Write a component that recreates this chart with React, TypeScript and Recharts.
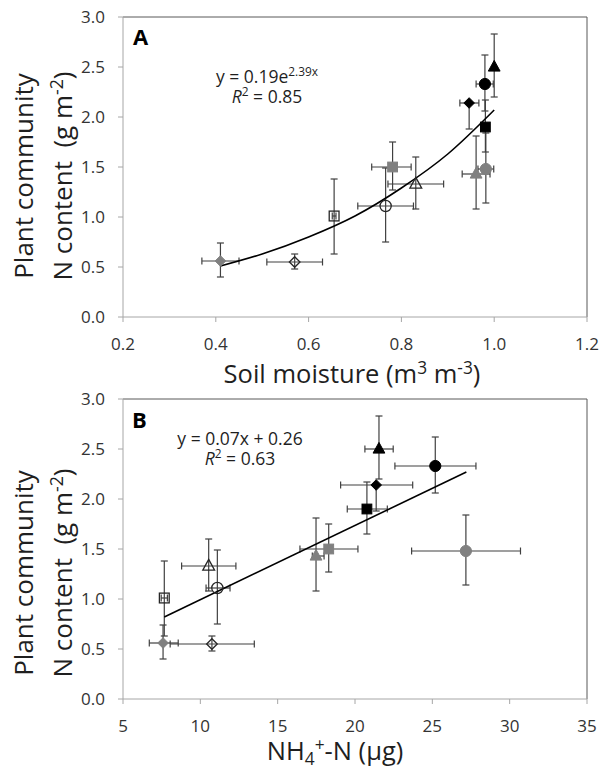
import React from 'react';
import { ScatterChart, Scatter, XAxis, YAxis, ErrorBar, ReferenceLine } from 'recharts';

// treatments, in marker order
const treatments = [
  'grayDiamond', 'openDiamond', 'crossSquare', 'openCircle', 'openTriangle', 'graySquare',
  'blackDiamond', 'blackCircle', 'blackTriangle', 'blackSquare', 'grayTriangle', 'grayCircle',
];

// plant community N content (g m-2), shared by both panels
const nContent = [0.56, 0.55, 1.01, 1.11, 1.33, 1.5, 2.14, 2.33, 2.5, 1.9, 1.43, 1.48];
const nContentErr = [
  [0.16, 0.18], [0.07, 0.08], [0.38, 0.37], [0.36, 0.38], [0.25, 0.27], [0.23, 0.25],
  [0.26, 0], [0.27, 0.29], [0.3, 0.33], [0.25, 0.27], [0.35, 0.38], [0.34, 0.36],
];

// panel A: soil moisture (m3 m-3)
const soilMoisture = [0.41, 0.57, 0.655, 0.766, 0.831, 0.781, 0.946, 0.98, 1.0, 0.981, 0.961, 0.982];
const soilMoistureErr = [
  [0.04, 0.04], [0.06, 0.06], [0.004, 0.004], [0.06, 0.06], [0.06, 0.06], [0.045, 0.04],
  [0.02, 0.021], [0.019, 0.018], [0, 0], [0.004, 0.004], [0.03, 0.03], [0.017, 0.017],
];
const trendAx = [0.41, 0.5, 0.6, 0.7, 0.8, 0.9, 1.0];
const trendAy = [0.51, 0.63, 0.8, 1.01, 1.29, 1.63, 2.07];

// panel B: NH4+-N (ug)
const nh4 = [7.59, 10.75, 7.67, 11.1, 10.54, 18.3, 21.37, 25.19, 21.55, 20.77, 17.48, 27.17];
const nh4Err = [
  [0.89, 0.98], [2.7, 2.74], [0.2, 0.2], [0.73, 0.82], [1.75, 1.76], [1.86, 1.89],
  [2.3, 2.36], [2.61, 2.63], [0.91, 0.92], [1.27, 1.32], [0.24, 0.52], [3.51, 3.53],
];
const trendBx = [7.67, 27.2];
const trendBy = [0.82, 2.27];

const yTicks = [0, 0.5, 1, 1.5, 2, 2.5, 3];
const xTicksA = [0.2, 0.4, 0.6, 0.8, 1.0, 1.2];
const xTicksB = [5, 10, 15, 20, 25, 30, 35];

const GRAY = '#808080';
const markerStyle: Record<string, { shape: string; fill: string }> = {
  grayDiamond: { shape: 'diamond', fill: GRAY },
  openDiamond: { shape: 'diamond', fill: 'none' },
  crossSquare: { shape: 'square', fill: 'none' },
  openCircle: { shape: 'circle', fill: 'none' },
  openTriangle: { shape: 'triangle', fill: 'none' },
  graySquare: { shape: 'square', fill: GRAY },
  blackDiamond: { shape: 'diamond', fill: '#000' },
  blackCircle: { shape: 'circle', fill: '#000' },
  blackTriangle: { shape: 'triangle', fill: '#000' },
  blackSquare: { shape: 'square', fill: '#000' },
  grayTriangle: { shape: 'triangle', fill: GRAY },
  grayCircle: { shape: 'circle', fill: GRAY },
};

const FONT = '"Open Sans", sans-serif';
const AXIS = '#a6a6a6';
const FRAME = '#595959';
const ERR = '#404040';

const pointsA = treatments.map((name, i) => ({
  name, x: soilMoisture[i], y: nContent[i], ex: soilMoistureErr[i], ey: nContentErr[i],
}));
const pointsB = treatments.map((name, i) => ({
  name, x: nh4[i], y: nContent[i], ex: nh4Err[i], ey: nContentErr[i],
}));
const lineA = trendAx.map((x, i) => ({ x, y: trendAy[i] }));
const lineB = trendBx.map((x, i) => ({ x, y: trendBy[i] }));

const Marker = (props: any) => {
  const { cx, cy, payload } = props;
  const m = markerStyle[payload.name];
  const open = m.fill === 'none';
  const stroke = open ? '#262626' : m.fill;
  const common = { fill: m.fill, stroke, strokeWidth: open ? 1.3 : 1 };
  if (m.shape === 'circle') return <circle cx={cx} cy={cy} r={5.6} {...common} />;
  if (m.shape === 'square') return <rect x={cx - 4.9} y={cy - 4.9} width={9.8} height={9.8} {...common} />;
  if (m.shape === 'triangle')
    return <polygon points={`${cx},${cy - 6.6} ${cx + 5.9},${cy + 4.1} ${cx - 5.9},${cy + 4.1}`} {...common} />;
  return <polygon points={`${cx},${cy - 5.3} ${cx + 5.3},${cy} ${cx},${cy + 5.3} ${cx - 5.3},${cy}`} {...common} />;
};

const NoDot = () => <g />;

const tickStyle = { fill: '#333', fontSize: 17, fontFamily: FONT };

function Panel({ points, line, domain, ticks }: any) {
  return (
    <ScatterChart width={601} height={390} margin={{ top: 17, right: 14, left: 0, bottom: 0 }}>
      <XAxis
        type="number" dataKey="x" domain={domain} ticks={ticks} interval={0}
        tickFormatter={(v: number) => (domain[0] < 1 ? v.toFixed(1) : String(v))}
        axisLine={{ stroke: AXIS }} tickLine={{ stroke: AXIS }} tickSize={5} tickMargin={16}
        tick={tickStyle} height={73} allowDataOverflow
      />
      <YAxis
        type="number" dataKey="y" domain={[0, 3]} ticks={yTicks} interval={0}
        tickFormatter={(v: number) => v.toFixed(1)}
        axisLine={{ stroke: AXIS }} tickLine={{ stroke: AXIS }} tickSize={5} tickMargin={13}
        tick={tickStyle} width={123} allowDataOverflow
      />
      <ReferenceLine y={3} stroke={FRAME} />
      <ReferenceLine x={domain[1]} stroke={FRAME} />
      <Scatter
        data={line} line={{ stroke: '#000', strokeWidth: 1.6 }} lineJointType="monotoneX"
        shape={NoDot} isAnimationActive={false} legendType="none"
      />
      <Scatter data={points} shape={Marker} isAnimationActive={false} legendType="none">
        <ErrorBar dataKey="ex" direction="x" width={3.5} stroke={ERR} strokeWidth={1.2} />
        <ErrorBar dataKey="ey" direction="y" width={3.5} stroke={ERR} strokeWidth={1.2} />
      </Scatter>
    </ScatterChart>
  );
}

const sup = { fontSize: '0.68em' } as const;

export default function App() {
  const txt = { fontFamily: FONT, fill: '#1f1f1f' } as const;
  return (
    <div style={{ position: 'absolute', left: 0, top: 0, width: 601, height: 772, background: '#fff' }}>
      <div style={{ position: 'absolute', left: 0, top: 0 }}>
        <Panel points={pointsA} line={lineA} domain={[0.2, 1.2]} ticks={xTicksA} />
      </div>
      <div style={{ position: 'absolute', left: 0, top: 382 }}>
        <Panel points={pointsB} line={lineB} domain={[5, 35]} ticks={xTicksB} />
      </div>
      <svg width={601} height={772} style={{ position: 'absolute', left: 0, top: 0, pointerEvents: 'none' }}>
        {/* panel A */}
        <text x={133} y={45} fontSize={22} fontWeight="bold" {...txt} fill="#000">A</text>
        <text x={267} y={83} fontSize={17.5} textAnchor="middle" {...txt}>
          y = 0.19e<tspan dy={-7} style={sup}>2.39x</tspan>
        </text>
        <text x={267} y={103} fontSize={17.5} textAnchor="middle" {...txt}>
          <tspan fontStyle="italic">R</tspan><tspan dy={-7} style={sup}>2</tspan><tspan dy={7}> = 0.85</tspan>
        </text>
        <text x={352} y={383} fontSize={25.5} textAnchor="middle" {...txt}>
          Soil moisture (m<tspan dy={-9} style={sup}>3</tspan><tspan dy={9}> m</tspan>
          <tspan dy={-9} style={sup}>-3</tspan><tspan dy={9}>)</tspan>
        </text>
        <g transform="translate(33,176) rotate(-90)">
          <text x={0} y={0} fontSize={26} textAnchor="middle" {...txt}>Plant community</text>
        </g>
        <g transform="translate(72,176) rotate(-90)">
          <text x={0} y={0} fontSize={26} textAnchor="middle" {...txt} style={{ whiteSpace: 'pre' }}>
            N content  (g m<tspan dy={-9} style={sup}>-2</tspan><tspan dy={9}>)</tspan>
          </text>
        </g>

        {/* panel B */}
        <text x={132} y={428} fontSize={22} fontWeight="bold" {...txt} fill="#000">B</text>
        <text x={240} y={445} fontSize={17.5} textAnchor="middle" {...txt}>y = 0.07x + 0.26</text>
        <text x={240} y={465} fontSize={17.5} textAnchor="middle" {...txt}>
          <tspan fontStyle="italic">R</tspan><tspan dy={-7} style={sup}>2</tspan><tspan dy={7}> = 0.63</tspan>
        </text>
        <text x={335} y={760} fontSize={25.5} textAnchor="middle" {...txt}>
          NH<tspan dy={5} style={sup}>4</tspan><tspan dy={-14} style={sup}>+</tspan><tspan dy={9}>-N (µg)</tspan>
        </text>
        <g transform="translate(33,573) rotate(-90)">
          <text x={0} y={0} fontSize={26} textAnchor="middle" {...txt}>Plant community</text>
        </g>
        <g transform="translate(72,573) rotate(-90)">
          <text x={0} y={0} fontSize={26} textAnchor="middle" {...txt} style={{ whiteSpace: 'pre' }}>
            N content  (g m<tspan dy={-9} style={sup}>-2</tspan><tspan dy={9}>)</tspan>
          </text>
        </g>
      </svg>
    </div>
  );
}
